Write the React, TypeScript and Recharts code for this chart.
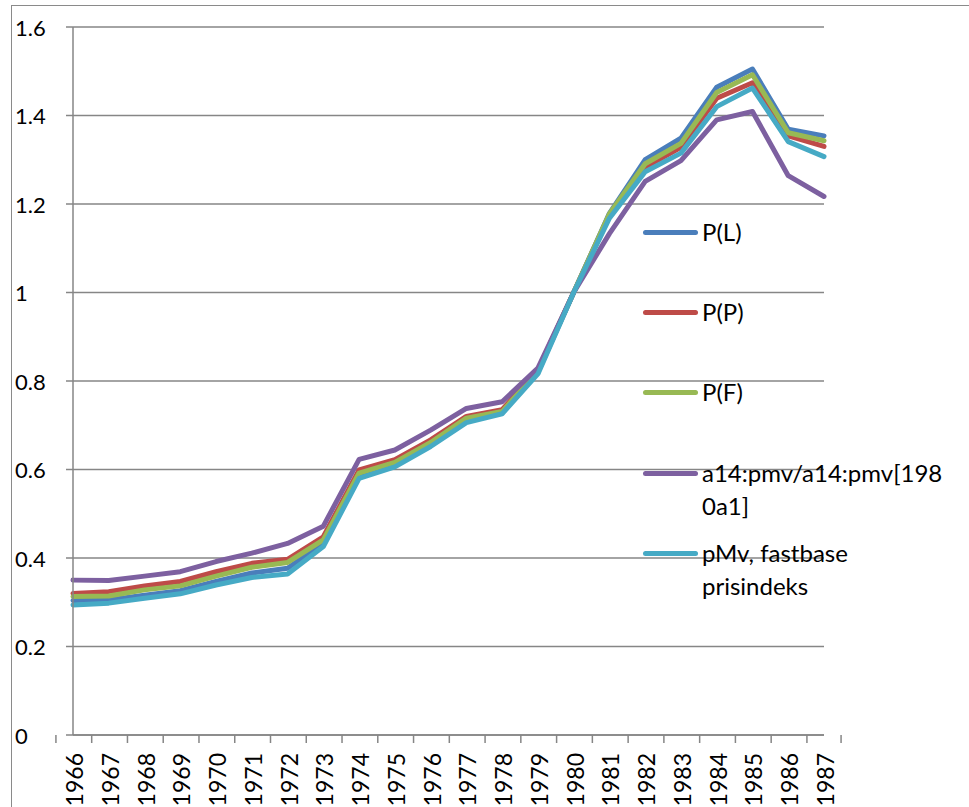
import React from 'react';
import { LineChart, Line, XAxis, YAxis, CartesianGrid, Legend } from 'recharts';

const years = ['1966', '1967', '1968', '1969', '1970', '1971', '1972', '1973', '1974', '1975', '1976', '1977', '1978', '1979', '1980', '1981', '1982', '1983', '1984', '1985', '1986', '1987'];

const pL = [0.304, 0.305, 0.316, 0.326, 0.347, 0.366, 0.377, 0.434, 0.588, 0.612, 0.657, 0.712, 0.729, 0.82, 1.0, 1.179, 1.3, 1.349, 1.464, 1.505, 1.369, 1.354];
const pP = [0.32, 0.324, 0.337, 0.347, 0.369, 0.388, 0.397, 0.448, 0.599, 0.622, 0.667, 0.72, 0.735, 0.825, 1.0, 1.175, 1.283, 1.328, 1.439, 1.474, 1.354, 1.33];
const pF = [0.313, 0.314, 0.328, 0.337, 0.359, 0.379, 0.39, 0.441, 0.592, 0.616, 0.661, 0.716, 0.731, 0.823, 1.0, 1.178, 1.291, 1.337, 1.452, 1.492, 1.361, 1.343];
const a14 = [0.35, 0.349, 0.359, 0.369, 0.392, 0.411, 0.433, 0.472, 0.623, 0.644, 0.689, 0.738, 0.753, 0.829, 1.0, 1.133, 1.251, 1.298, 1.39, 1.409, 1.264, 1.217];
const pMv = [0.294, 0.298, 0.309, 0.319, 0.339, 0.356, 0.364, 0.426, 0.58, 0.606, 0.652, 0.706, 0.726, 0.816, 1.0, 1.168, 1.273, 1.315, 1.42, 1.462, 1.341, 1.307];

const yTicks = [0, 0.2, 0.4, 0.6, 0.8, 1, 1.2, 1.4, 1.6];

const series = [
  { key: 'pL', name: 'P(L)', lines: ['P(L)'], color: '#4A7EBB', values: pL },
  { key: 'pP', name: 'P(P)', lines: ['P(P)'], color: '#BE4B48', values: pP },
  { key: 'pF', name: 'P(F)', lines: ['P(F)'], color: '#98B954', values: pF },
  { key: 'a14', name: 'a14:pmv/a14:pmv[1980a1]', lines: ['a14:pmv/a14:pmv[198', '0a1]'], color: '#7D60A0', values: a14 },
  { key: 'pMv', name: 'pMv, fastbase prisindeks', lines: ['pMv, fastbase', 'prisindeks'], color: '#46AAC5', values: pMv },
];

const data = years.map((y, i) => {
  const row: Record<string, any> = { year: y };
  series.forEach((s) => { row[s.key] = s.values[i]; });
  return row;
});

const FONT = 'Lato, "Open Sans", sans-serif';
const AXIS = '#868686';

const XTick = (props: any) => {
  const { x, y, payload, index, width } = props;
  const bw = (width || 751) / years.length;
  const left = x - bw / 2;
  return (
    <g>
      <line x1={left} y1={y} x2={left} y2={y + 8} stroke={AXIS} strokeWidth={1.5} />
      {index === years.length - 1 && (
        <line x1={x + bw / 2} y1={y} x2={x + bw / 2} y2={y + 8} stroke={AXIS} strokeWidth={1.5} />
      )}
      <text
        x={0}
        y={0}
        transform={`translate(${x + 1},${y + 18}) rotate(-90)`}
        textAnchor="end"
        dominantBaseline="central"
        fontFamily={FONT}
        fontSize={23}
        fill="#000"
      >
        {payload.value}
      </text>
    </g>
  );
};

const YTick = (props: any) => {
  const { y, payload } = props;
  return (
    <text x={15} y={y} textAnchor="start" dominantBaseline="central" fontFamily={FONT} fontSize={22} fill="#000">
      {String(payload.value)}
    </text>
  );
};

const legendY = [232, 312, 392, 473, 553];

const LegendContent = () => (
  <div style={{ position: 'relative', width: 969, height: 807 }}>
    {series.map((s, i) => (
      <React.Fragment key={s.key}>
        <div
          style={{
            position: 'absolute',
            left: 643,
            top: legendY[i] - 2.5,
            width: 55,
            height: 5,
            borderRadius: 3,
            background: s.color,
          }}
        />
        <div
          style={{
            position: 'absolute',
            left: 702,
            top: legendY[i] - 17,
            lineHeight: '33px',
            fontFamily: FONT,
            fontSize: 24,
            color: '#000',
            whiteSpace: 'nowrap',
          }}
        >
          {s.lines.map((l, j) => (
            <div key={j}>{l}</div>
          ))}
        </div>
      </React.Fragment>
    ))}
  </div>
);

export default function App() {
  return (
    <div style={{ position: 'absolute', left: 0, top: 0, width: 969, height: 807, overflow: 'hidden', background: '#fff' }}>
      <div
        style={{
          position: 'absolute',
          left: 11,
          top: 5,
          width: 1200,
          height: 1200,
          border: '1.5px solid #8a8a8a',
          boxSizing: 'border-box',
        }}
      />
      <div style={{ position: 'absolute', left: 0, top: 0 }}>
        <LineChart width={969} height={807} data={data} margin={{ top: 27, right: 145, bottom: 0, left: 0 }}>
          <CartesianGrid horizontal vertical={false} stroke={AXIS} strokeWidth={1.5} />
          <XAxis
            dataKey="year"
            height={72}
            stroke={AXIS}
            strokeWidth={1.5}
            tickLine={false}
            tickSize={0}
            tickMargin={0}
            interval={0}
            tick={<XTick />}
          />
          <YAxis
            width={73}
            domain={[0, 1.6]}
            ticks={yTicks}
            type="number"
            stroke={AXIS}
            strokeWidth={1.5}
            tickSize={7}
            tick={<YTick />}
            allowDataOverflow
          />
          <Legend
            layout="horizontal"
            verticalAlign="middle"
            align="center"
            wrapperStyle={{ position: 'absolute', left: 0, top: 0, width: 969, height: 807, pointerEvents: 'none' }}
            content={<LegendContent />}
          />
          {series.map((s) => (
            <Line
              key={s.key}
              type="linear"
              dataKey={s.key}
              name={s.name}
              stroke={s.color}
              strokeWidth={5}
              strokeLinejoin="round"
              strokeLinecap="round"
              dot={false}
              activeDot={false}
              isAnimationActive={false}
            />
          ))}
        </LineChart>
      </div>
    </div>
  );
}
